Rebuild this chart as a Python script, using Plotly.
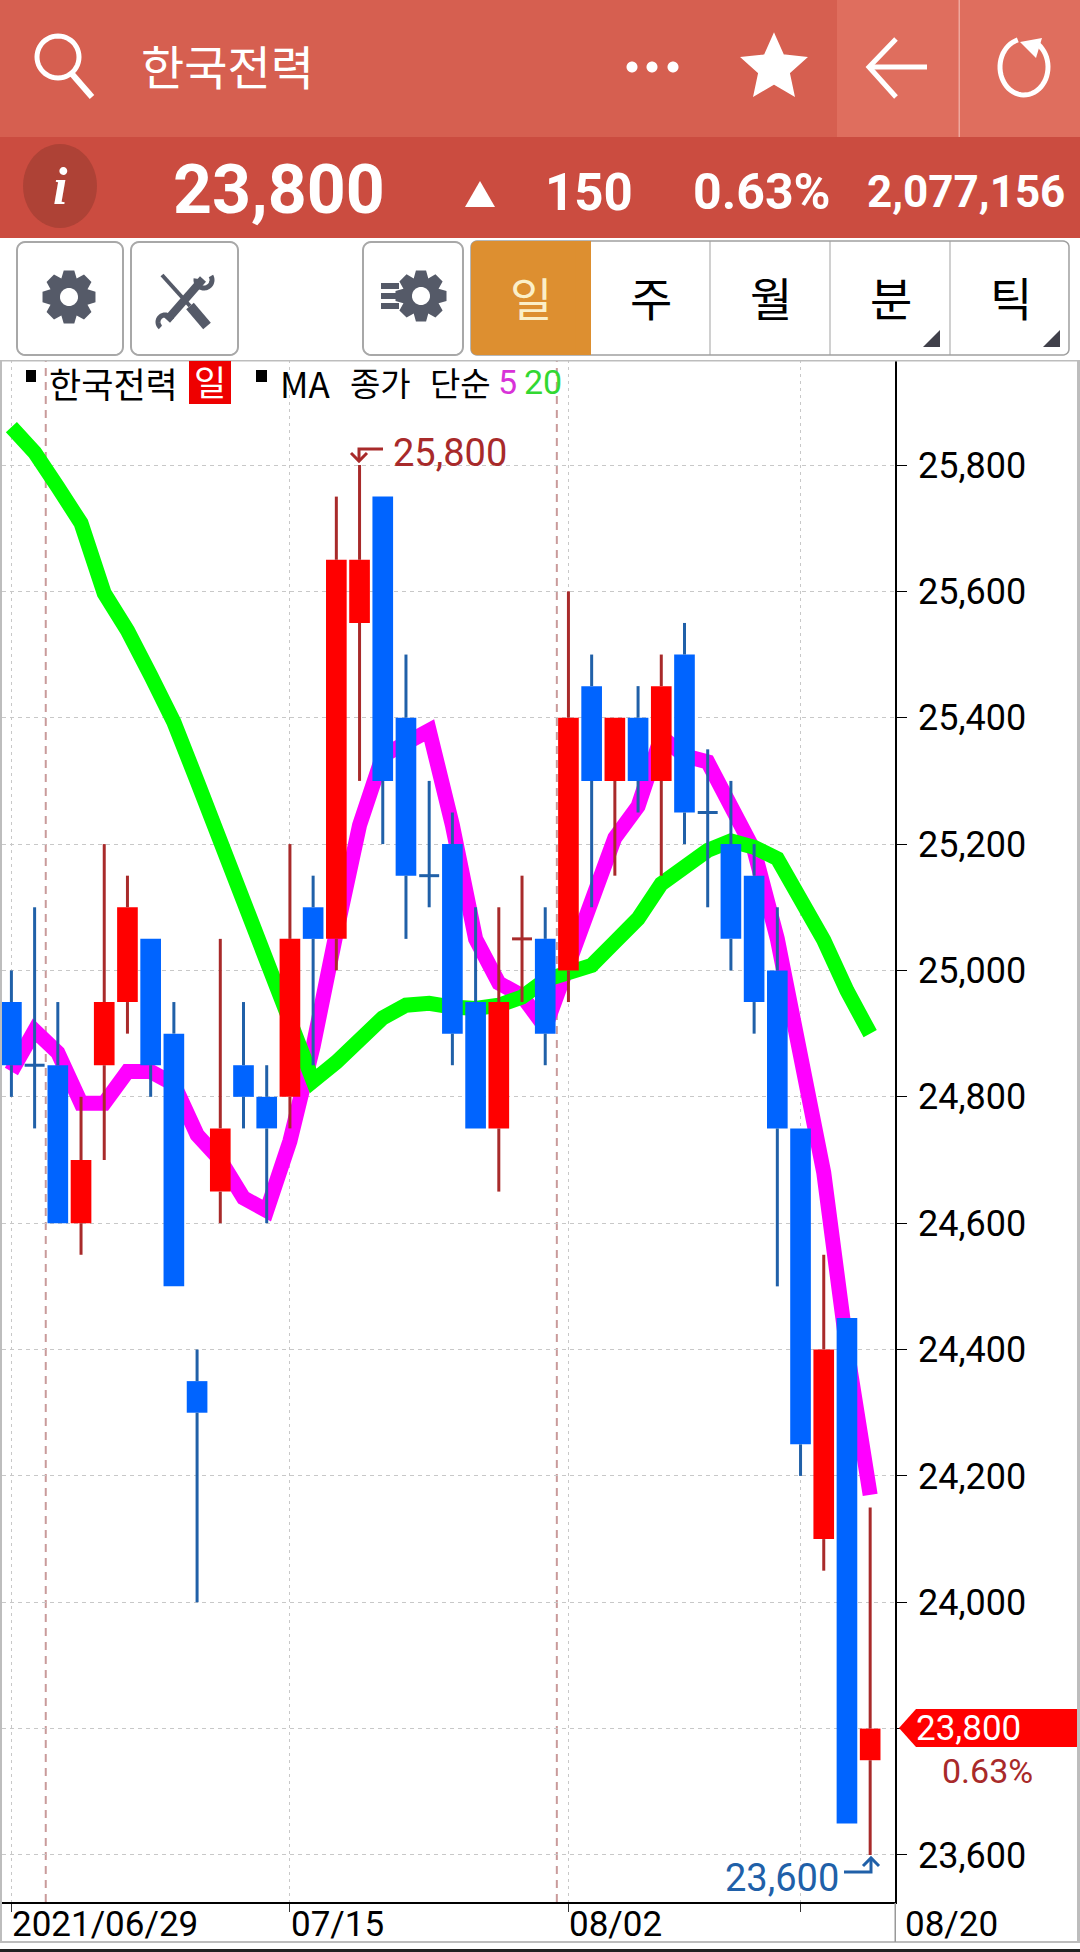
import math
import plotly.graph_objects as go

W, H = 1080, 1952

# ---------- chart data (one entry per trading day) ----------
day_index = list(range(38))
open_vals = [24950, 24850, 24850, 24600, 24850, 24950, 25050, 24900, 24350, 24650, 24850, 24800, 24800, 25100, 25050, 25550, 25750, 25400, 25150, 25200, 24950, 24750, 25050, 25050, 25000, 25450, 25300, 25400, 25300, 25500, 25250, 25200, 25150, 25000, 24750, 24100, 24450, 23750]
close_vals = [24850, 24850, 24600, 24700, 24950, 25100, 24850, 24500, 24300, 24750, 24800, 24750, 25050, 25050, 25650, 25650, 25300, 25150, 25150, 24900, 24750, 24950, 25050, 24900, 25400, 25300, 25400, 25300, 25450, 25250, 25250, 25050, 24950, 24750, 24250, 24400, 23650, 23800]
high_vals = [25000, 25100, 24950, 24800, 25200, 25150, 25050, 24950, 24400, 25050, 24950, 24850, 25200, 25150, 25750, 25800, 25750, 25500, 25300, 25250, 25100, 25100, 25150, 25100, 25600, 25500, 25400, 25450, 25500, 25550, 25350, 25300, 25200, 25100, 24750, 24550, 24450, 24150]
low_vals = [24800, 24750, 24600, 24550, 24700, 24900, 24800, 24500, 24000, 24600, 24750, 24600, 24750, 24850, 25000, 25300, 25200, 25050, 25100, 24850, 24750, 24650, 24950, 24850, 24950, 25100, 25150, 25250, 25150, 25200, 25100, 25000, 24900, 24500, 24200, 24050, 23650, 23600]
ma5_vals = [24840, 24905, 24870, 24790, 24790, 24840, 24840, 24820, 24740, 24700, 24640, 24620, 24730, 24880, 25060, 25230, 25340, 25360, 25380, 25230, 25050, 24980, 24960, 24910, 25010, 25120, 25210, 25260, 25370, 25340, 25330, 25260, 25190, 25050, 24850, 24680, 24400, 24170]
ma20_vals = [25860, 25820, 25765, 25708, 25597, 25538, 25467, 25393, 25300, 25205, 25113, 25020, 24920, 24825, 24855, 24888, 24925, 24945, 24948, 24942, 24940, 24945, 24958, 24985, 24995, 25008, 25045, 25082, 25137, 25165, 25190, 25205, 25195, 25177, 25110, 25048, 24968, 24900]

price_ticks = [23600, 23800, 24000, 24200, 24400, 24600, 24800, 25000, 25200, 25400, 25600, 25800]
# the 23,800 tick is covered by the current-price tag, which carries the same text
price_tick_labels = ["23,600", "", "24,000", "24,200", "24,400", "24,600", "24,800", "25,000", "25,200", "25,400", "25,600", "25,800"]
date_tick_index = [0, 12, 24, 34]
date_labels = ["2021/06/29", "07/15", "08/02"]
last_axis_label = "08/20"
month_separators = [1.48, 23.5]

stock_name = "한국전력"
last_price = "23,800"
change_abs = "150"
change_pct = "0.63%"
volume = "2,077,156"
period_tabs = ["일", "주", "월", "분", "틱"]
high_label = "25,800"
low_label = "23,600"

# ---------- colours ----------
RED, BLUE = "#FF0000", "#0064FF"
WICK_RED, WICK_BLUE = "#A82A2A", "#2060A8"
MAGENTA, GREEN = "#FF00FF", "#00FF00"
GRID = "#C8C8C8"
ICON = "#555A68"
KR = "Noto Sans CJK KR"
NUM = "Roboto"

# ---------- pixel helpers for the app chrome ----------
def fx(x):
    return x / W

def fy(y):
    return 1 - y / H

def path(points, close=True):
    s = "M" + " L".join(f"{fx(x):.5f},{fy(y):.5f}" for x, y in points)
    return s + (" Z" if close else "")

shapes = []

def poly(points, fill=None, line=None, width=0, close=True):
    shapes.append(dict(type="path", xref="paper", yref="paper", path=path(points, close), layer="above",
                       fillcolor=fill if fill else "rgba(0,0,0,0)",
                       line=dict(color=line if line else "rgba(0,0,0,0)", width=width)))

def rect(x0, y0, x1, y1, fill, line=None, width=0):
    poly([(x0, y0), (x1, y0), (x1, y1), (x0, y1)], fill, line, width)

def arc(cx, cy, rx, ry=None, a0=0, a1=360, n=48):
    ry = rx if ry is None else ry
    return [(cx + rx * math.cos(math.radians(a0 + (a1 - a0) * i / n)),
             cy + ry * math.sin(math.radians(a0 + (a1 - a0) * i / n))) for i in range(n + 1)]

def rrect(x0, y0, x1, y1, r, fill, line=None, width=0):
    pts = (arc(x1 - r, y0 + r, r, a0=-90, a1=0, n=6) + arc(x1 - r, y1 - r, r, a0=0, a1=90, n=6) +
           arc(x0 + r, y1 - r, r, a0=90, a1=180, n=6) + arc(x0 + r, y0 + r, r, a0=180, a1=270, n=6))
    poly(pts, fill, line, width)

def gear(cx, cy, R=27, r=20, teeth=8):
    pts = []
    for i in range(teeth):
        a = 2 * math.pi * i / teeth
        hw = math.pi / teeth
        for da, rad in ((-hw * 1.0, r), (-hw * 0.5, R), (hw * 0.5, R), (hw * 1.0, r)):
            pts.append((cx + rad * math.sin(a + da), cy - rad * math.cos(a + da)))
    poly(pts, ICON)
    poly(arc(cx, cy, 9), "#FFFFFF")

annotations = []

def label(x, y, text, size, color="#000000", anchor="left", font=NUM, weight=None, style=None):
    f = dict(family=font, size=size, color=color)
    if weight:
        f["weight"] = weight
    if style:
        f["style"] = style
    annotations.append(dict(xref="paper", yref="paper", x=fx(x), y=fy(y), text=text, showarrow=False,
                            xanchor=anchor, yanchor="middle", font=f, borderpad=0))

# ---------- header bars ----------
rect(0, 0, W, 137, "#D65F50")
rect(837, 0, W, 137, "#DF6E5E")
rect(958.5, 0, 960, 137, "#EFA79C")
rect(0, 137, W, 238, "#CB4C40")
poly(arc(60, 186, 37, 42), "#AE4236")

# search, dots, star, back, refresh icons
poly(arc(58, 57, 21), None, "#FFFFFF", 5)
poly([(72, 74), (92, 97)], None, "#FFFFFF", 6, close=False)
for cx in (632, 652, 673):
    poly(arc(cx, 67, 5.5), "#FFFFFF")
star = []
for i in range(10):
    rad = 32 if i % 2 == 0 else 15
    a = math.pi * i / 5
    star.append((774 + rad * math.sin(a), 68 - rad * math.cos(a)))
poly(star, "#FFFFFF", "#FFFFFF", 3)
poly([(927, 67), (869, 67)], None, "#FFFFFF", 5, close=False)
poly([(896, 39), (869, 67), (896, 97)], None, "#FFFFFF", 5, close=False)
poly(arc(1024, 67, 24, 28, a0=-60, a1=255), None, "#FFFFFF", 5, close=False)
poly([(1020, 42), (1042, 38), (1036, 58)], "#FFFFFF")

label(140, 65, stock_name, 47, "#FFFFFF", font=KR)
label(60, 186, "i", 52, "#FFFFFF", anchor="center", font="Liberation Serif", weight=700, style="italic")
label(172, 190, last_price, 68, "#FFFFFF", weight=700)
poly([(480, 181), (495, 207), (465, 207)], "#FFFFFF")
label(544, 192, change_abs, 51, "#FFFFFF", weight=700)
label(692, 192, change_pct, 50, "#FFFFFF", weight=700)
label(866, 192, volume, 44, "#FFFFFF", weight=700)

# ---------- toolbar ----------
rect(0, 238, W, 360, "#FFFFFF")
rrect(17, 242, 123, 355, 8, "#FFFFFF", "#A8A8A8", 2)
rrect(131, 242, 238, 355, 8, "#FFFFFF", "#A8A8A8", 2)
rrect(363, 242, 463, 355, 8, "#FFFFFF", "#A8A8A8", 2)
gear(69, 297)
poly([(162, 275), (190, 306)], None, ICON, 4, close=False)
poly([(190, 306), (207, 326)], None, ICON, 10, close=False)
poly([(203, 279), (167, 320)], None, ICON, 8, close=False)
poly(arc(204, 280, 8, a0=-30, a1=190), None, ICON, 5, close=False)
poly(arc(165, 322, 7, a0=130, a1=340), None, ICON, 5, close=False)
gear(421, 296, R=26, r=19)
for by in (286, 296, 306):
    rect(381, by - 3, 399, by + 3, ICON)
rrect(471, 241, 1069, 355, 6, "#FFFFFF", "#A0A0A0", 1.5)
rrect(471, 241, 591, 355, 6, "#DD8F30")
rect(576, 241, 591, 355, "#DD8F30")
for dx in (710, 830, 950):
    rect(dx - 0.5, 241, dx + 0.5, 355, "#A0A0A0")
for tx in (940, 1060):
    poly([(tx, 330), (tx, 347), (tx - 17, 347)], "#40404A")
for tx, tab in zip((531, 651, 771, 891, 1011), period_tabs):
    label(tx, 296, tab, 46, "#FBEFC8" if tab == period_tabs[0] else "#000000", anchor="center", font=KR)

# ---------- frame of the chart ----------
rect(0, 360, W, 361.5, "#BDBDBD")
rect(0, 360, 2, 1942, "#BDBDBD")
rect(1077, 360, W, 1942, "#BDBDBD")
rect(0, 1941, W, 1943, "#BDBDBD")
rect(0, 1949, W, 1952, "#222222")
rect(894.5, 1903, 896, 1942, "#999999")

# legend row
rect(26, 370, 36, 382, "#000000")
label(48, 382, stock_name, 35, font=KR)
rect(189, 361, 231, 404, "#EE0000")
label(210, 381, period_tabs[0], 35, "#FFFFFF", anchor="center", font=KR)
rect(256, 370, 267, 382, "#000000")
label(279, 382, "MA", 35, font=KR)
label(349, 382, "종가", 33, font=KR)
label(429, 382, "단순", 33, font=KR)
label(497, 382, "5", 34, "#D832D8", font=NUM)
label(523, 382, "20", 34, "#32D832", font=NUM)

# high / low call-outs
poly([(383, 449), (359, 449), (359, 461)], None, WICK_RED, 3, close=False)
poly([(351, 453), (359, 461), (367, 453)], None, WICK_RED, 3, close=False)
label(392, 453, high_label, 38, WICK_RED)
poly([(844, 1872), (871, 1872), (871, 1858)], None, WICK_BLUE, 3, close=False)
poly([(863, 1866), (871, 1858), (879, 1866)], None, WICK_BLUE, 3, close=False)
label(724, 1878, low_label, 38, WICK_BLUE)

# current price tag
poly([(899, 1728), (916, 1709), (1077, 1709), (1077, 1747), (916, 1747)], RED)
label(915, 1728, last_price, 35, "#FFFFFF")
label(941, 1771, change_pct, 34, WICK_RED)

# date labels
for i, text in zip(date_tick_index, date_labels):
    annotations.append(dict(xref="x", yref="paper", x=i - 0.05, y=fy(1924), text=text, showarrow=False, xanchor="left",
                            yanchor="middle", font=dict(family=NUM, size=35, color="#000000")))
label(904, 1924, last_axis_label, 35)

# month separators
for sep in month_separators:
    shapes.append(dict(type="line", xref="x", yref="paper", x0=sep, x1=sep, y0=fy(1902), y1=fy(361), layer="below",
                       line=dict(color="#C99A9A", width=2, dash="8px,6px")))

# ---------- marks ----------
up_x, up_y, dn_x, dn_y = [], [], [], []
prev_close = close_vals[0]
for i, o, c, h, l in zip(day_index, open_vals, close_vals, high_vals, low_vals):
    rising = c > o or (c == o and c > prev_close)
    prev_close = c
    xs, ys = (up_x, up_y) if rising else (dn_x, dn_y)
    top, bottom = max(o, c), min(o, c)
    if h > top:
        xs += [i, i, None]
        ys += [top, h, None]
    if l < bottom:
        xs += [i, i, None]
        ys += [bottom, l, None]
    if o == c:
        xs += [i - 0.43, i + 0.43, None]
        ys += [o, o, None]

fig = go.Figure()
fig.add_trace(go.Scatter(x=day_index, y=ma5_vals, mode="lines", name="MA 5",
                         line=dict(color=MAGENTA, width=15), xaxis="x", yaxis="y"))
fig.add_trace(go.Scatter(x=day_index, y=ma20_vals, mode="lines", name="MA 20",
                         line=dict(color=GREEN, width=15), xaxis="x", yaxis="y"))
fig.add_trace(go.Bar(x=day_index, base=[min(o, c) for o, c in zip(open_vals, close_vals)],
                     y=[abs(c - o) for o, c in zip(open_vals, close_vals)], width=0.89,
                     marker=dict(color=[RED if c > o else BLUE for o, c in zip(open_vals, close_vals)], line_width=0),
                     name=stock_name, xaxis="x2", yaxis="y2"))
fig.add_trace(go.Scatter(x=up_x, y=up_y, mode="lines", line=dict(color=WICK_RED, width=3),
                         connectgaps=False, xaxis="x2", yaxis="y2", name="up wick"))
fig.add_trace(go.Scatter(x=dn_x, y=dn_y, mode="lines", line=dict(color=WICK_BLUE, width=3),
                         connectgaps=False, xaxis="x2", yaxis="y2", name="down wick"))

x_range = [-0.405, 38.07]
y_range = [23525.6, 25966.2]
x_dom = [2 / W, 895 / W]
y_dom = [1 - 1902 / H, 1 - 360 / H]

fig.update_layout(
    width=W, height=H, autosize=False, margin=dict(l=0, r=0, t=0, b=0),
    paper_bgcolor="#FFFFFF", plot_bgcolor="#FFFFFF", showlegend=False, barmode="overlay",
    shapes=shapes, annotations=annotations,
    xaxis=dict(domain=x_dom, range=x_range, tickmode="array", tickvals=date_tick_index, showticklabels=False,
               ticks="outside", ticklen=8, tickcolor="#333333", tickwidth=1, showgrid=True, gridcolor=GRID,
               griddash="3px,4px", gridwidth=1, zeroline=False, showline=True, linecolor="#000000", linewidth=2,
               fixedrange=True),
    yaxis=dict(domain=y_dom, range=y_range, side="right", tickmode="array", tickvals=price_ticks,
               ticktext=price_tick_labels, ticks="outside", ticklen=10, tickcolor="#000000", tickwidth=1,
               tickfont=dict(family=NUM, size=36, color="#000000"), ticklabelstandoff=4,
               showgrid=True, gridcolor=GRID, griddash="4px,4px", gridwidth=1, zeroline=False,
               showline=True, linecolor="#000000", linewidth=1.5, anchor="x", fixedrange=True),
    xaxis2=dict(domain=x_dom, range=x_range, overlaying="x", anchor="y2", visible=False, fixedrange=True),
    yaxis2=dict(domain=y_dom, range=y_range, overlaying="y", anchor="x2", visible=False, side="right", fixedrange=True),
)

fig.write_html("out.html", config=dict(displayModeBar=False),
               post_script="document.body.style.margin='0';document.body.style.overflow='hidden';")
